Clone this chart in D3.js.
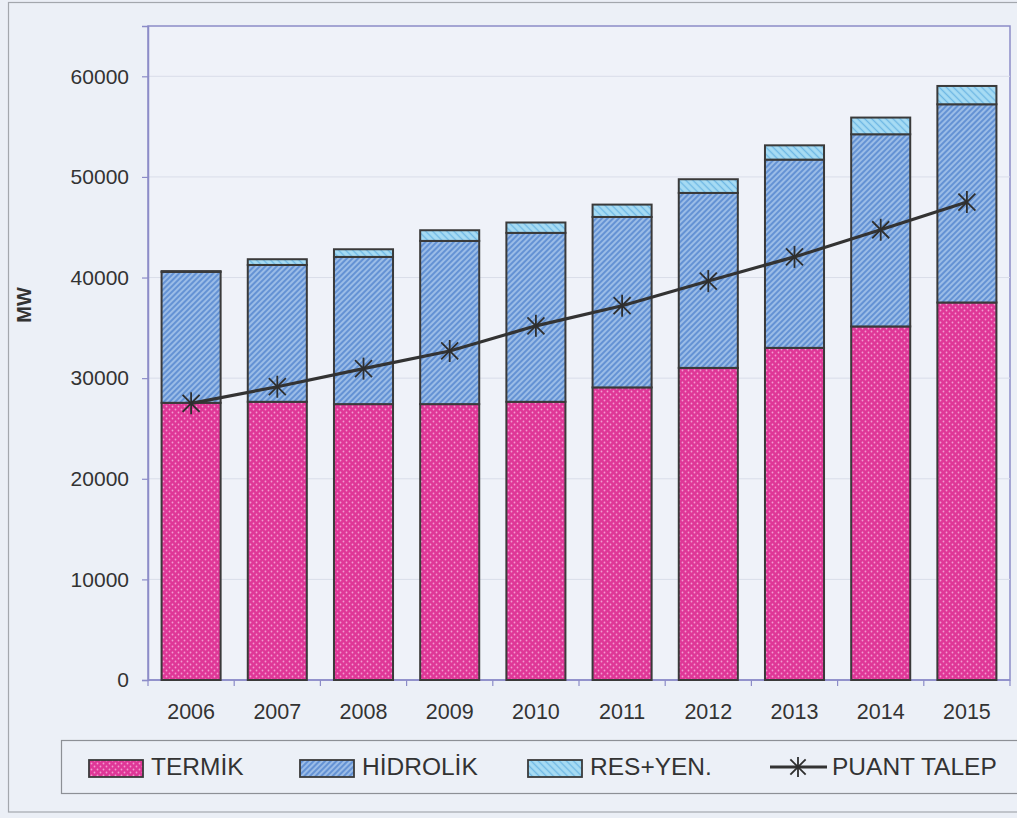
<!DOCTYPE html>
<html>
<head>
<meta charset="utf-8">
<script src="https://cdn.jsdelivr.net/npm/d3@7"></script>
<style>
  html, body { margin: 0; padding: 0; background: #ebeff6; }
  svg { display: block; font-family: "Liberation Sans", Arial, sans-serif; }
</style>
</head>
<body>
<svg id="chart" width="1017" height="818"></svg>
<script>
// Kurulu güç (MW) ve puant talep, 2006-2015
const years = ["2006", "2007", "2008", "2009", "2010", "2011", "2012", "2013", "2014", "2015"];
const termik  = [27550, 27650, 27420, 27420, 27650, 29080, 31020, 33010, 35140, 37520];
const hidrolik = [13010, 13600, 14630, 16220, 16790, 16940, 17390, 18710, 19100, 19700];
const resYen  = [80, 570, 760, 1060, 1030, 1230, 1360, 1420, 1660, 1820];
const puantTalep = [27500, 29150, 30950, 32700, 35200, 37200, 39650, 42050, 44750, 47500];
const yTicks = [0, 10000, 20000, 30000, 40000, 50000, 60000];
const seriesNames = ["TERMİK", "HİDROLİK", "RES+YEN."];
const lineName = "PUANT TALEP";

const svg = d3.select("#chart");
const textColor = "#333";
const barStroke = "#3a3a3a";
const axisColor = "#8c8cc8";

// fill patterns
const defs = svg.append("defs");
const dots = defs.append("pattern").attr("id", "pat-termik")
  .attr("patternUnits", "userSpaceOnUse").attr("width", 6).attr("height", 6);
dots.append("rect").attr("width", 6).attr("height", 6).attr("fill", "#df3797");
dots.append("circle").attr("cx", 1.5).attr("cy", 1.5).attr("r", 0.9).attr("fill", "#f49bd0");
dots.append("circle").attr("cx", 4.5).attr("cy", 4.5).attr("r", 0.9).attr("fill", "#f49bd0");

function hatch(id, base, stripe, angle, size) {
  const p = defs.append("pattern").attr("id", id)
    .attr("patternUnits", "userSpaceOnUse").attr("width", size).attr("height", size)
    .attr("patternTransform", `rotate(${angle})`);
  p.append("rect").attr("width", size).attr("height", size).attr("fill", base);
  p.append("line").attr("x1", size / 2).attr("y1", 0).attr("x2", size / 2).attr("y2", size)
    .attr("stroke", stripe).attr("stroke-width", 1.4);
}
hatch("pat-hidrolik", "#6492d4", "#b3cff0", 45, 4);
hatch("pat-res", "#a7dcf4", "#6fb8e4", -45, 5);
const fills = ["url(#pat-termik)", "url(#pat-hidrolik)", "url(#pat-res)"];

// outer frame
svg.append("rect").attr("x", 8.5).attr("y", 2.5).attr("width", 1030).attr("height", 809.5)
  .attr("fill", "#ecf0f7").attr("stroke", "#a3a7ad").attr("stroke-width", 1.2);

// plot area
const plot = { left: 148, right: 1010, top: 26, bottom: 680 };
const x = d3.scaleBand().domain(years).range([plot.left, plot.right])
  .paddingInner(0.315).paddingOuter(0.1575);
const y = d3.scaleLinear().domain([0, 65000]).range([plot.bottom, plot.top]);

svg.append("rect").attr("x", plot.left).attr("y", plot.top)
  .attr("width", plot.right - plot.left).attr("height", plot.bottom - plot.top)
  .attr("fill", "#eff2f9").attr("stroke", axisColor).attr("stroke-width", 1.5);

// faint gridlines
svg.append("g").selectAll("line").data(yTicks.slice(1)).join("line")
  .attr("x1", plot.left).attr("x2", plot.right)
  .attr("y1", d => y(d)).attr("y2", d => y(d))
  .attr("stroke", "#d9dde9").attr("stroke-width", 1);

// y axis
const yAxis = svg.append("g").attr("transform", `translate(${plot.left},0)`)
  .call(d3.axisLeft(y).tickValues(yTicks).tickFormat(d3.format("d")).tickSize(6).tickPadding(13));
yAxis.select(".domain").attr("stroke", axisColor).attr("stroke-width", 1.5);
yAxis.selectAll(".tick line").attr("stroke", axisColor).attr("stroke-width", 1.2);
yAxis.selectAll(".tick text").attr("fill", textColor).attr("font-size", 21)
  .attr("font-family", "'Liberation Sans', Arial, sans-serif");

// x axis with ticks at band boundaries
const xAxisG = svg.append("g").attr("transform", `translate(0,${plot.bottom})`);
xAxisG.append("line").attr("x1", plot.left).attr("x2", plot.right)
  .attr("stroke", axisColor).attr("stroke-width", 1.5);
const step = x.step();
const bounds = d3.range(years.length + 1).map(i => plot.left + i * step);
xAxisG.selectAll("line.tk").data(bounds).join("line").attr("class", "tk")
  .attr("x1", d => d).attr("x2", d => d).attr("y1", 0).attr("y2", 6)
  .attr("stroke", axisColor).attr("stroke-width", 1.2);
xAxisG.selectAll("text").data(years).join("text")
  .attr("x", d => x(d) + x.bandwidth() / 2).attr("y", 39)
  .attr("text-anchor", "middle").attr("fill", textColor).attr("font-size", 21.5)
  .text(d => d);

// y title
svg.append("text").attr("transform", "translate(31,305) rotate(-90)")
  .attr("text-anchor", "middle").attr("font-size", 20).attr("font-weight", "bold")
  .attr("fill", "#333").text("MW");

// stacked bars
const rows = years.map((yr, i) => ({ year: yr, v: [termik[i], hidrolik[i], resYen[i]] }));
const stack = d3.stack().keys([0, 1, 2]).value((d, k) => d.v[k]);
const layers = stack(rows);
const barG = svg.append("g");
layers.forEach((layer, k) => {
  barG.append("g").selectAll("rect").data(layer).join("rect")
    .attr("x", d => x(d.data.year))
    .attr("width", x.bandwidth())
    .attr("y", d => y(d[1]))
    .attr("height", d => y(d[0]) - y(d[1]))
    .attr("fill", fills[k])
    .attr("stroke", barStroke).attr("stroke-width", 2);
});

// peak demand line
const cx = d => x(d) + x.bandwidth() / 2;
const line = d3.line().x((d, i) => cx(years[i])).y(d => y(d));
svg.append("path").datum(puantTalep).attr("d", line)
  .attr("fill", "none").attr("stroke", "#333").attr("stroke-width", 3.2);

function star(g, px, py, r) {
  const s = g.append("g").attr("transform", `translate(${px},${py})`)
    .attr("stroke", "#2e2e2e").attr("stroke-width", 1.8).attr("fill", "none");
  s.append("line").attr("x1", -r * 0.85).attr("y1", -r * 0.85).attr("x2", r * 0.85).attr("y2", r * 0.85);
  s.append("line").attr("x1", -r * 0.85).attr("y1", r * 0.85).attr("x2", r * 0.85).attr("y2", -r * 0.85);
  s.append("line").attr("x1", 0).attr("y1", -r * 1.1).attr("x2", 0).attr("y2", r * 1.1);
}
const markG = svg.append("g");
puantTalep.forEach((v, i) => star(markG, cx(years[i]), y(v), 10));

// legend
const legend = svg.append("g");
legend.append("rect").attr("x", 61.5).attr("y", 740.5).attr("width", 980).attr("height", 53)
  .attr("fill", "none").attr("stroke", "#8d9096").attr("stroke-width", 1.2);
const legX = [89, 300, 528];
seriesNames.forEach((name, k) => {
  legend.append("rect").attr("x", legX[k]).attr("y", 760).attr("width", 54).attr("height", 17)
    .attr("fill", fills[k]).attr("stroke", barStroke).attr("stroke-width", 1.8);
  legend.append("text").attr("x", legX[k] + 62).attr("y", 775)
    .attr("font-size", 24.5).attr("fill", textColor).text(name);
});
legend.append("line").attr("x1", 770).attr("x2", 827).attr("y1", 767).attr("y2", 767)
  .attr("stroke", "#333").attr("stroke-width", 3.2);
star(legend, 798, 767, 9);
legend.append("text").attr("x", 832).attr("y", 775)
  .attr("font-size", 24.5).attr("fill", textColor).text(lineName);
</script>
</body>
</html>
